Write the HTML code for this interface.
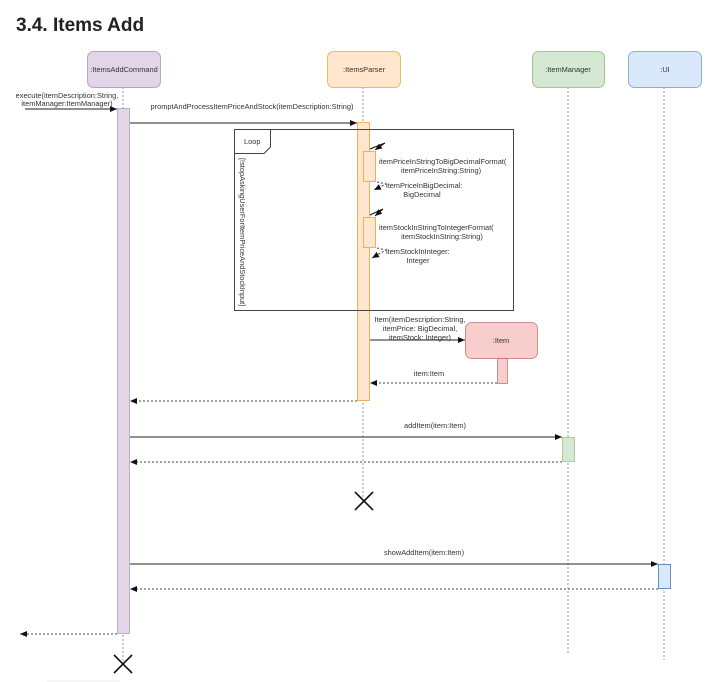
<!DOCTYPE html>
<html><head><meta charset="utf-8"><style>
html,body{margin:0;padding:0;background:#fff;width:721px;height:682px;overflow:hidden}
svg{display:block}
text{font-family:"Liberation Sans",Arial,sans-serif;font-size:7.4px;fill:#333}
.t{font-size:19px;font-weight:600;fill:#222}
</style></head><body>
<svg width="721" height="682" viewBox="0 0 721 682" xmlns="http://www.w3.org/2000/svg">
<defs>
<marker id="a" markerWidth="8" markerHeight="8" refX="7" refY="4" orient="auto" markerUnits="userSpaceOnUse"><path d="M0,1 L7,4 L0,7 Z" fill="#111"/></marker>
</defs>
<text class="t" x="16" y="31">3.4. Items Add</text>

<g stroke="#999" stroke-dasharray="2,2" stroke-width="1">
<line x1="123" y1="87" x2="123" y2="662"/>
<line x1="363" y1="87" x2="363" y2="500"/>
<line x1="568" y1="87" x2="568" y2="655"/>
<line x1="664" y1="87" x2="664" y2="660"/>
</g>

<rect x="87.5" y="51.5" width="73" height="36" rx="6" fill="#e1d5e7" stroke="#9673a6" stroke-opacity=".6"/>
<text x="124" y="72" text-anchor="middle">:ItemsAddCommand</text>
<rect x="327.5" y="51.5" width="73" height="36" rx="6" fill="#ffe6cc" stroke="#d79b00" stroke-opacity=".6"/>
<text x="364" y="72" text-anchor="middle">:ItemsParser</text>
<rect x="532.5" y="51.5" width="72" height="36" rx="6" fill="#d5e8d4" stroke="#82b366" stroke-opacity=".7"/>
<text x="568" y="72" text-anchor="middle">:ItemManager</text>
<rect x="628.5" y="51.5" width="73" height="36" rx="6" fill="#dae8fc" stroke="#6c8ebf" stroke-opacity=".7"/>
<text x="665" y="72" text-anchor="middle">:UI</text>

<rect x="117.5" y="108.5" width="12" height="525" fill="#e1d5e7" stroke="#9673a6" stroke-opacity=".5"/>
<rect x="357.5" y="122.5" width="12" height="278" fill="#ffe6cc" stroke="#f0b060"/>
<rect x="562.5" y="437.5" width="12" height="24" fill="#d5e8d4" stroke="#82b366" stroke-opacity=".6"/>
<rect x="658.5" y="564.5" width="12" height="24" fill="#dae8fc" stroke="#6c8ebf"/>

<rect x="234.5" y="129.5" width="279" height="181" fill="none" stroke="#444"/>
<path d="M234.5,153.5 H264 L270.5,147 V129.5" fill="none" stroke="#444"/>
<text x="244" y="144" fill="#444">Loop</text>
<text transform="translate(240,158) rotate(90)" font-size="7.2">[!stopAskingUserForItemPriceAndStockInput]</text>

<rect x="363.5" y="151.5" width="12" height="30" fill="#ffe6cc" stroke="#f0b060"/>
<rect x="363.5" y="217.5" width="12" height="30" fill="#ffe6cc" stroke="#f0b060"/>
<g stroke="#111" fill="none">
<path d="M370,149 L385,143 L375,150" marker-end="url(#a)"/>
<path d="M370,215 L383,209 L375,216" marker-end="url(#a)"/>
</g>
<g stroke="#333" fill="none" stroke-dasharray="2,2">
<path d="M377,182 L386,184 L374,190" marker-end="url(#a)"/>
<path d="M377,248 L386,250 L372,258" marker-end="url(#a)"/>
</g>
<text x="379" y="164">itemPriceInStringToBigDecimalFormat(</text>
<text x="441" y="173" text-anchor="middle">itemPriceInString:String)</text>
<text x="386" y="188">itemPriceInBigDecimal:</text>
<text x="422" y="197" text-anchor="middle">BigDecimal</text>
<text x="379" y="230">itemStockInStringToIntegerFormat(</text>
<text x="442" y="239" text-anchor="middle">itemStockInString:String)</text>
<text x="386" y="254">itemStockInInteger:</text>
<text x="418" y="263" text-anchor="middle">Integer</text>

<rect x="465.5" y="322.5" width="72" height="36" rx="6" fill="#f8cecc" stroke="#b85450" stroke-opacity=".6"/>
<text x="501" y="343" text-anchor="middle">:Item</text>
<rect x="497.5" y="358.5" width="10" height="25" fill="#f8cecc" stroke="#b85450" stroke-opacity=".6"/>

<g stroke="#222" fill="none">
<line x1="25" y1="109" x2="117" y2="109" marker-end="url(#a)"/>
<line x1="130" y1="123" x2="357" y2="123" marker-end="url(#a)"/>
<line x1="370" y1="340" x2="465" y2="340" marker-end="url(#a)"/>
<line x1="130" y1="437" x2="562" y2="437" marker-end="url(#a)"/>
<line x1="130" y1="564" x2="658" y2="564" marker-end="url(#a)"/>
</g>
<g stroke="#444" fill="none" stroke-dasharray="2,2">
<line x1="497" y1="383" x2="370" y2="383" marker-end="url(#a)"/>
<line x1="357" y1="401" x2="130" y2="401" marker-end="url(#a)"/>
<line x1="562" y1="462" x2="130" y2="462" marker-end="url(#a)"/>
<line x1="658" y1="589" x2="130" y2="589" marker-end="url(#a)"/>
<line x1="117" y1="634" x2="20" y2="634" marker-end="url(#a)"/>
</g>
<text x="67" y="98" text-anchor="middle">execute(itemDescription:String,</text>
<text x="67" y="106" text-anchor="middle">itemManager:ItemManager)</text>
<text x="252" y="109" text-anchor="middle">promptAndProcessItemPriceAndStock(itemDescription:String)</text>
<text x="420" y="322" text-anchor="middle">Item(itemDescription:String,</text>
<text x="420" y="331" text-anchor="middle">itemPrice: BigDecimal,</text>
<text x="420" y="340" text-anchor="middle">itemStock: Integer)</text>
<text x="429" y="376" text-anchor="middle">item:Item</text>
<text x="435" y="428" text-anchor="middle">addItem(item:Item)</text>
<text x="424" y="555" text-anchor="middle">showAddItem(item:Item)</text>

<g stroke="#111" stroke-width="1.6">
<line x1="355" y1="492" x2="373" y2="510"/><line x1="373" y1="492" x2="355" y2="510"/>
<line x1="114" y1="655" x2="132" y2="673"/><line x1="132" y1="655" x2="114" y2="673"/>
</g>
<line x1="47" y1="681" x2="120" y2="681" stroke="#eee"/>
</svg>
</body></html>
